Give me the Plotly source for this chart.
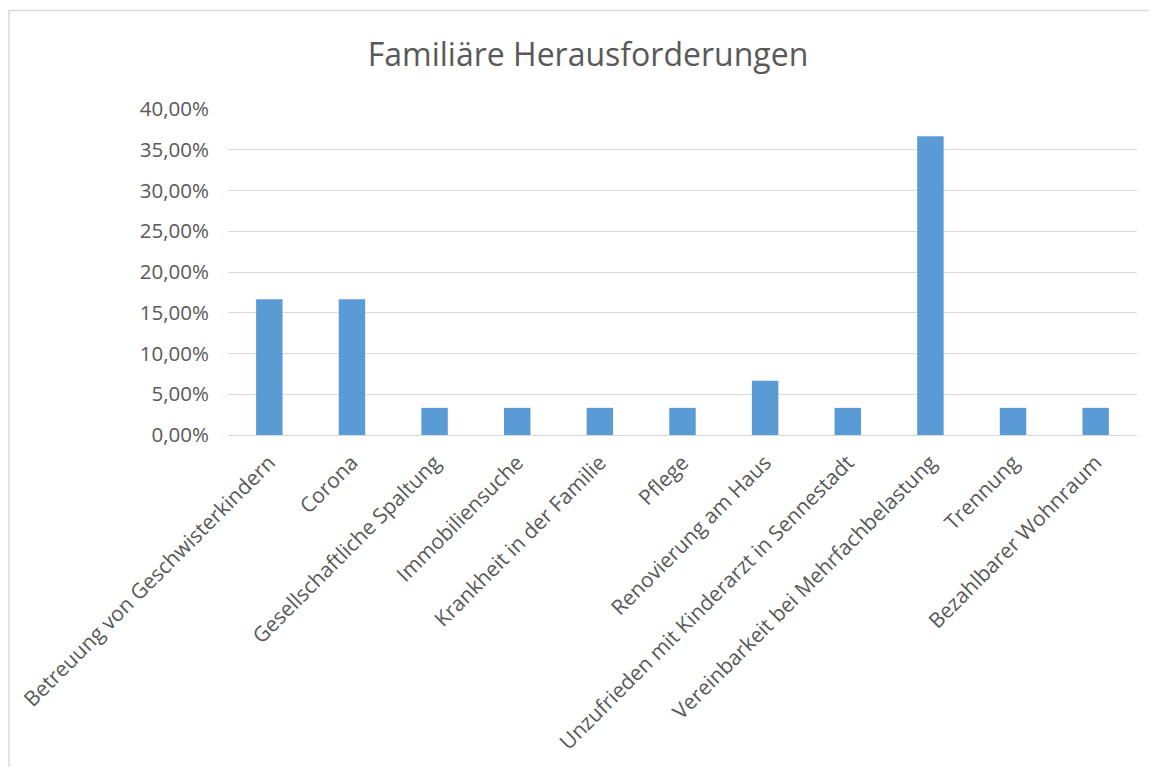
import plotly.graph_objects as go

categories = [
    "Betreuung von Geschwisterkindern",
    "Corona",
    "Gesellschaftliche Spaltung",
    "Immobiliensuche",
    "Krankheit in der Familie",
    "Pflege",
    "Renovierung am Haus",
    "Unzufrieden mit Kinderarzt in Sennestadt",
    "Vereinbarkeit bei Mehrfachbelastung",
    "Trennung",
    "Bezahlbarer Wohnraum",
]
values = [0.1667, 0.1667, 0.0333, 0.0333, 0.0333, 0.0333, 0.0667, 0.0333, 0.3667, 0.0333, 0.0333]
y_ticks = [0, 0.05, 0.10, 0.15, 0.20, 0.25, 0.30, 0.35, 0.40]

W, H = 1157, 767
OFF = 8  # page body margin
L, R, T, B = 228 - OFF, 20 + OFF, 109 - OFF, 332 + OFF
FONT = "Open Sans"
GRAY = "#595959"

fig = go.Figure(go.Bar(x=categories, y=values, marker_color="#5B9BD5",
                       marker_line_width=0))

fig.update_layout(
    width=W, height=H,
    margin=dict(l=L, r=R, t=T, b=B, autoexpand=False),
    paper_bgcolor="white", plot_bgcolor="white",
    separators=",.",
    bargap=0.68,
    showlegend=False,
    font=dict(family=FONT, color=GRAY, size=20),
    title=dict(text="Familiäre Herausforderungen", x=((588 - OFF) / W), xanchor="center",
               y=1 - (55 - OFF) / H, yanchor="middle",
               font=dict(family=FONT, size=32, color=GRAY)),
)
fig.update_yaxes(range=[0, 0.40], tickvals=y_ticks, tickformat=".2%",
                 showgrid=True, gridcolor="#D9D9D9", gridwidth=1,
                 zeroline=False, showline=False, ticks="", ticklabelstandoff=18,
                 tickfont=dict(size=20.5, color=GRAY))
fig.update_xaxes(tickangle=-45, showline=True, linecolor="#D9D9D9", linewidth=1,
                 ticks="", ticklabelstandoff=6, tickfont=dict(size=21, color=GRAY))

# chart outer border (cropped at right and bottom)
pw = W - L - R
ph = H - T - B
fig.add_shape(type="rect", xref="paper", yref="paper",
              x0=(1 - L) / pw, x1=1 + (R + 10) / pw,
              y0=-(B + 10) / ph, y1=1 + (T - 2.5) / ph,
              line=dict(color="#D9D9D9", width=1.5), fillcolor="rgba(0,0,0,0)", layer="below")

fig.write_html("out.html")
